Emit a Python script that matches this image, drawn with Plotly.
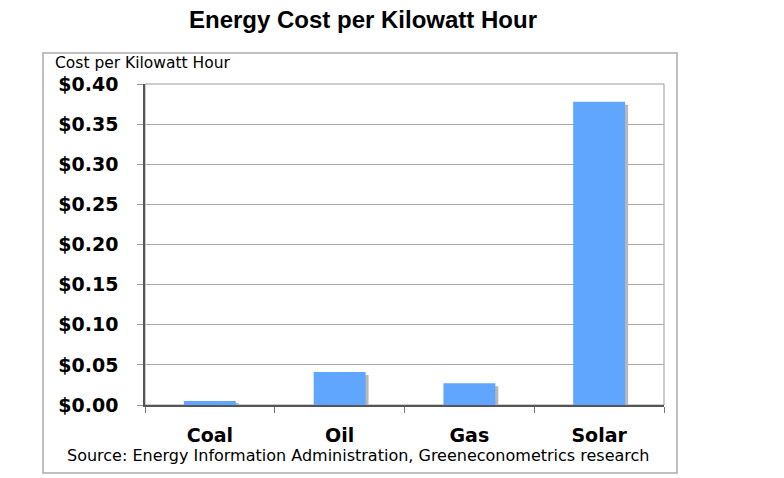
import plotly.graph_objects as go

categories = ["Coal", "Oil", "Gas", "Solar"]
costs = [0.005, 0.041, 0.027, 0.378]
y_ticks = [0.0, 0.05, 0.10, 0.15, 0.20, 0.25, 0.30, 0.35, 0.40]

title_text = "Energy Cost per Kilowatt Hour"
axis_label = "Cost per Kilowatt Hour"
source_text = "Source: Energy Information Administration, Greeneconometrics research"

W, H = 784, 478
L, R, T, B = 145, 120, 84, 73
pw, ph = W - L - R, H - T - B

bar_w = 0.4
shadow_dx = 3 / (pw / len(categories))   # 3 px in category units
shadow_dy = 3 / ph * 0.4                 # 3 px in data units

fig = go.Figure()
fig.add_trace(go.Bar(
    x=categories, y=[max(c - shadow_dy, 0) for c in costs],
    width=bar_w, offset=-bar_w / 2 + shadow_dx,
    marker=dict(color="#b8b8b8", line=dict(width=0)),
    hoverinfo="skip", showlegend=False))
fig.add_trace(go.Bar(
    x=categories, y=costs, width=bar_w, offset=-bar_w / 2,
    marker=dict(color="#60a6ff", line=dict(width=0)),
    showlegend=False))

def px_x(px):
    return (px - L) / pw

def px_y(py):
    return (H - B - py) / ph

fig.update_layout(
    width=W, height=H, barmode="overlay",
    margin=dict(l=L, r=R, t=T, b=B),
    paper_bgcolor="white", plot_bgcolor="white",
    title=dict(text=title_text, x=363 / W, xanchor="center",
               y=1 - 20 / H, yanchor="middle", xref="container", yref="container",
               font=dict(family="Liberation Sans, Arial", size=24, color="black", weight="bold")),
    xaxis=dict(type="category", tickson="boundaries", ticks="outside", ticklen=6,
               tickcolor="#777", showgrid=False, showline=True, linecolor="#555",
               linewidth=1.5, ticklabelstandoff=12,
               tickfont=dict(family="DejaVu Sans", size=19, color="black", weight="bold"),
               range=[-0.5, 3.5]),
    yaxis=dict(range=[0, 0.4], tickvals=y_ticks, tickformat="$.2f", ticks="outside",
               ticklen=6, tickcolor="#999", showgrid=True, gridcolor="#a8a8a8",
               gridwidth=1, showline=True, linecolor="#555", linewidth=1.5,
               zeroline=False, ticklabelstandoff=15,
               tickfont=dict(family="DejaVu Sans", size=19, color="black", weight="bold")),
    shapes=[
        dict(type="rect", xref="paper", yref="paper", x0=0, x1=1, y0=0, y1=1,
             line=dict(color="#999", width=1), layer="below"),
        dict(type="rect", xref="paper", yref="paper",
             x0=px_x(43), x1=px_x(677), y0=px_y(473), y1=px_y(53),
             line=dict(color="#aaa", width=1.5)),
    ],
    annotations=[
        dict(text=axis_label, xref="paper", yref="paper", x=px_x(53), y=px_y(63),
             xanchor="left", yanchor="middle", showarrow=False,
             font=dict(family="DejaVu Sans", size=15.5, color="black")),
        dict(text=source_text, xref="paper", yref="paper", x=px_x(358), y=px_y(455),
             xanchor="center", yanchor="middle", showarrow=False,
             font=dict(family="DejaVu Sans", size=16, color="black")),
    ],
)

fig.write_html("out.html", config={"displayModeBar": False},
               post_script="document.body.style.margin='0';")
